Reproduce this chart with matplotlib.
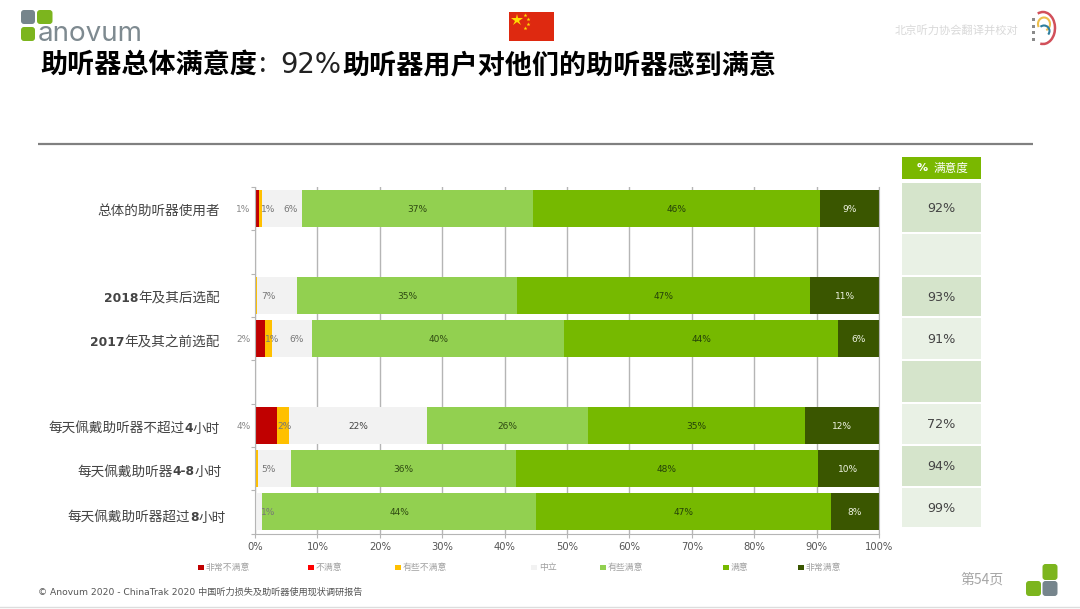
import re
import matplotlib
matplotlib.use("Agg")
import matplotlib.pyplot as plt
from matplotlib.patches import FancyBboxPatch, Rectangle, Arc

CJK = ['Noto Sans CJK SC', 'DejaVu Sans']
LAT = ['DejaVu Sans', 'Noto Sans CJK SC']
plt.rcParams['font.family'] = CJK

W, H = 1080, 609

categories = ['总体的助听器使用者', '', '2018年及其后选配', '2017年及其之前选配', '',
              '每天佩戴助听器不超过4小时', '每天佩戴助听器4-8小时', '每天佩戴助听器超过8小时']
series_names = ['非常不满意', '不满意', '有些不满意', '中立', '有些满意', '满意', '非常满意']
very_dissatisfied = [0.6, 0, 0, 1.6, 0, 3.6, 0, 0]
dissatisfied      = [0, 0, 0, 0, 0, 0, 0, 0]
somewhat_dis      = [0.5, 0, 0.3, 1.2, 0, 1.9, 0.5, 0]
neutral           = [6.4, 0, 6.4, 6.4, 0, 22.0, 5.2, 1.2]
somewhat_sat      = [37.0, 0, 35.3, 40.3, 0, 25.8, 36.1, 43.8]
satisfied         = [46.0, 0, 47.0, 44.0, 0, 34.9, 48.4, 47.3]
very_satisfied    = [9.5, 0, 11.0, 6.5, 0, 11.8, 9.8, 7.7]
series = [very_dissatisfied, dissatisfied, somewhat_dis, neutral, somewhat_sat, satisfied, very_satisfied]
colors = ['#C00000', '#FF0000', '#FFC000', '#F2F2F2', '#92D050', '#76B900', '#3A5600']

label_neutral = ['6%', '', '7%', '6%', '', '22%', '5%', '1%']
label_some    = ['37%', '', '35%', '40%', '', '26%', '36%', '44%']
label_sat     = ['46%', '', '47%', '44%', '', '35%', '48%', '47%']
label_very    = ['9%', '', '11%', '6%', '', '12%', '10%', '8%']
label_vdis    = ['1%', '', '', '2%', '', '4%', '', '']
label_sdis    = ['1%', '', '', '1%', '', '2%', '', '']
satisfaction  = ['92%', '', '93%', '91%', '', '72%', '94%', '99%']
x_ticks = list(range(0, 101, 10))

fig = plt.figure(figsize=(W / 100, H / 100), dpi=100, facecolor='white')
L, R, T, B = 255, 879, 187, 533.5
ax = fig.add_axes([L / W, 1 - B / H, (R - L) / W, (B - T) / H])
ax.set_xlim(0, 100)
ax.set_ylim(len(categories) - 0.5, -0.5)
ax.set_axisbelow(True)
ax.grid(axis='x', color='#b5b5b5', lw=1)
ax.spines['top'].set_visible(False)
for s in ['left', 'right', 'bottom']:
    ax.spines[s].set_color('#b5b5b5')
ax.set_xticks(x_ticks, [f'{v}%' for v in x_ticks], fontsize=7.2, color='#555555', family=LAT)
ax.tick_params(axis='x', length=3, color='#b5b5b5', pad=3)
ax.set_yticks([i - 0.5 for i in range(len(categories) + 1)], [''] * (len(categories) + 1))
ax.tick_params(axis='y', length=3, color='#b5b5b5')

ypos = list(range(len(categories)))
left = [0.0] * len(categories)
lefts = []
for vals, c, name in zip(series, colors, series_names):
    ax.barh(ypos, vals, left=left, height=0.855, color=c, label=name, zorder=2)
    lefts.append(list(left))
    left = [a + b for a, b in zip(left, vals)]

def lab(x, y, s, color='#444444', weight='normal'):
    ax.annotate(s, xy=(x, y), xytext=(0, -0.8), textcoords='offset points', ha='center', va='center',
                fontsize=6.5, color=color, family=LAT, zorder=3, fontweight=weight,
                annotation_clip=False)

for i in ypos:
    if label_some[i]:
        lab(lefts[4][i] + somewhat_sat[i] / 2, i, label_some[i], '#2f4a12')
        lab(lefts[5][i] + satisfied[i] / 2, i, label_sat[i], '#24400a')
        lab(lefts[6][i] + very_satisfied[i] / 2, i, label_very[i], '#eef3e2')
        if neutral[i] > 10:
            lab(lefts[3][i] + neutral[i] / 2, i, label_neutral[i])

# small-segment labels, placed beside the thin bars (x in percent of the axis)
thin_x = {0: (-1.9, 2.1, 5.7), 2: (None, None, 2.1), 3: (-1.8, 2.7, 6.7),
          5: (-1.8, 4.8, None), 6: (None, None, 2.1), 7: (None, None, 2.1)}
for i, (a, b, c) in thin_x.items():
    if a is not None:
        lab(a, i, label_vdis[i], '#888888')
    if b is not None:
        lab(b, i, label_sdis[i], '#777777')
    if c is not None:
        lab(c, i, label_neutral[i], '#777777')

# overlay in reference pixel coordinates
ov = fig.add_axes([0, 0, 1, 1], facecolor='none')
ov.set_xlim(0, W)
ov.set_ylim(H, 0)
ov.axis('off')

# category labels: digits bold, right edges as in the reference
renderer = fig.canvas.get_renderer()
right_edge = [220, 0, 220, 220, 0, 220, 222, 226]
row_y = [209, 0, 297, 341, 0, 427, 470, 516]
for i, name in enumerate(categories):
    if not name:
        continue
    x = right_edge[i]
    for part in reversed(re.findall(r'[0-9\-]+|[^0-9\-]+', name)):
        digit = part[0].isdigit()
        t = ov.text(x, row_y[i], part, ha='right', va='center_baseline',
                    fontsize=8.8 if digit else 9.8, color='#444444',
                    family=LAT if digit else CJK, fontweight='bold' if digit else 'normal')
        x -= t.get_window_extent(renderer).width

def rbox(x0, y0, x1, y1, c, r=3):
    ov.add_patch(FancyBboxPatch((x0 + r, y0 + r), x1 - x0 - 2 * r, y1 - y0 - 2 * r,
                                boxstyle=f'round,pad={r},rounding_size={r}', fc=c, ec='none'))

GREEN, GREY = '#7CB51E', '#76858C'
rbox(21, 10, 35, 24, GREY)
rbox(37, 10, 52.5, 24, GREEN)
rbox(21, 27, 35, 41, GREEN)
ov.text(38, 41, 'anovum', fontsize=20, color='#7E8A90', family='Inter', va='baseline', ha='left')
rbox(1042.5, 564, 1057.5, 580, GREEN)
rbox(1026, 581, 1041, 596, GREEN)
rbox(1042.5, 581, 1057.5, 596, GREY)

# flag
ov.add_patch(Rectangle((509, 12), 45, 29, fc='#DE2910', ec='none'))
ov.plot([517], [20], marker='*', ms=9, color='#FFDE00', mew=0)
for x, y in [(525, 15), (528, 19), (528, 24), (525, 28)]:
    ov.plot([x], [y], marker='*', ms=3, color='#FFDE00', mew=0)

# title
ov.text(40, 65, '助听器总体满意度', fontsize=19.5, fontweight='bold', color='black', va='center')
ov.text(259, 65, ':', fontsize=19.5, color='#222222', va='center')
ov.text(280, 65, '92%', fontsize=19.8, color='#222222', va='center', family='DejaVu Sans')
ov.text(342, 65, '助听器用户对他们的助听器感到满意', fontsize=19.5, fontweight='bold', color='black', va='center')
ov.text(1018, 30, '北京听力协会翻译并校对', fontsize=8.1, color='#d9d9d9', ha='right', va='center')

# ear logo
ov.add_patch(Arc((1043, 28), 24, 32, theta1=-110, theta2=100, color='#D2505A', lw=1.8))
ov.add_patch(Arc((1044, 24), 12, 13, theta1=150, theta2=430, color='#EDBE4A', lw=1.5))
ov.add_patch(Arc((1044, 31), 11, 11, theta1=-130, theta2=40, color='#2F7F9E', lw=1.5))
for y in (18, 25, 31, 38):
    ov.add_patch(Rectangle((1031.5, y), 3, 3, fc='#8a8a8a', ec='none'))

# rule lines
ov.plot([38, 1033], [144, 144], color='#808080', lw=1.6, solid_capstyle='butt')
ov.plot([0, 1080], [607, 607], color='#dddddd', lw=1)

# satisfaction column
ov.add_patch(Rectangle((902, 157), 79, 22, fc='#7AB800', ec='none'))
ov.text(917, 168, '%', fontsize=8, fontweight='bold', color='white', ha='left', va='center', family=LAT)
ov.text(934, 168.5, '满意度', fontsize=8.4, color='white', ha='left', va='center')
cell_tops = [183, 234, 277, 318, 361, 404, 446, 488]
cell_bots = [232, 275, 316, 359, 402, 444, 486, 527]
cell_cols = ['#D5E4CB', '#E9F1E5', '#D5E4CB', '#E9F1E5', '#D5E4CB', '#E9F1E5', '#D5E4CB', '#E9F1E5']
for t, b, c, s in zip(cell_tops, cell_bots, cell_cols, satisfaction):
    ov.add_patch(Rectangle((902, t), 79, b - t, fc=c, ec='none'))
    if s:
        ov.text(941.5, (t + b) / 2 + 1, s, fontsize=9.2, color='#444444', ha='center', va='center', family=LAT)

# legend
legend_x = [198, 308, 395, 531, 600, 723, 798]
for x, c, name in zip(legend_x, colors, series_names):
    ov.add_patch(Rectangle((x, 564.5), 5.5, 5.5, fc=c, ec='none'))
    ov.text(x + 8, 567.3, name, fontsize=6.4, color='#a0a0a0', ha='left', va='center')

# footer
ov.text(38, 592.5, '© Anovum 2020 - ChinaTrak 2020 中国听力损失及助听器使用现状调研报告',
        fontsize=6.6, color='#555555', ha='left', va='center', family=LAT)
ov.text(960, 580, '第54页', fontsize=10, color='#a6a6a6', ha='left', va='center')

fig.savefig('out.png', dpi=100, facecolor='white')
